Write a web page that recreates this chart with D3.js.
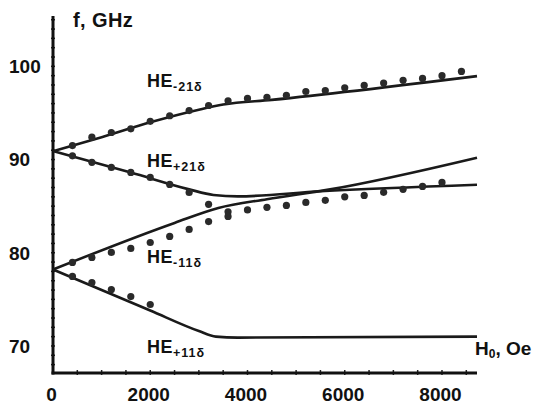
<!DOCTYPE html>
<html lang="en">
  <head>
    <meta charset="utf-8">
    <style>
      body { margin: 0; background: #fff; }
      text {
        font-family: "Liberation Sans", Arial, sans-serif;
        font-weight: bold;
        fill: #111;
      }
      .curve {
        fill: none;
        stroke: #1a1a1a;
        stroke-width: 2.6;
      }
      .dot {
        fill: #2a2a2a;
      }
      .axis-line {
        stroke: #111;
        stroke-width: 3;
      }
      .tick-mark {
        stroke: #222;
        stroke-width: 1.5;
      }
    </style>
  </head>
  <body>
  </body>
  <script src="https://d3js.org/d3.v7.min.js"></script>

  <script>
  var width = 537;
  var height = 408;

  // field H0 (Oe) and frequency f (GHz)
  var xTicks = [0, 2000, 4000, 6000, 8000];
  var xMinorTicks = [500, 1000, 1500, 2000, 2500, 3000, 3500, 4000, 4500, 5000, 5500, 6000, 6500, 7000, 7500, 8000, 8500];
  var yTicks = [70, 80, 90, 100];
  var yMinorTicks = [68, 69, 70, 71, 72, 73, 74, 75, 76, 77, 78, 79, 80, 81, 82, 83, 84, 85, 86, 87, 88, 89, 90,
                     91, 92, 93, 94, 95, 96, 97, 98, 99, 100, 101, 102, 103, 104, 105];

  // calculated curves
  var lineHEm21 = [[0, 90.9], [1000, 92.4], [2000, 94.0], [3000, 95.35], [3500, 95.9], [4500, 96.4], [8720, 98.95]];
  var lineHEp21 = [[0, 90.9], [1600, 88.6], [2800, 86.8], [3300, 86.2], [3800, 86.05], [5500, 86.6], [8720, 87.3]];
  var lineHEm11 = [[0, 78.2], [2500, 83.2], [3400, 84.8], [4400, 85.75], [5700, 86.8], [8720, 90.2]];
  var lineHEp11 = [[0, 78.2], [2000, 73.8], [3000, 71.6], [3350, 71.0], [3800, 70.9], [8720, 71.0]];

  // measured points
  var dotsHEm21H = [400, 800, 1200, 1600, 2000, 2400, 2800, 3200, 3600, 4000, 4400, 4800, 5200, 5600, 6000, 6400, 6800, 7200, 7600, 8000, 8400];
  var dotsHEm21F = [91.5, 92.4, 92.9, 93.3, 94.1, 94.7, 95.25, 95.8, 96.3, 96.56, 96.67, 96.9, 97.3, 97.4, 97.7, 97.95, 98.2, 98.5, 98.7, 99.0, 99.45];

  var dotsHEp21H = [400, 800, 1200, 1600, 2000, 2400, 2800, 3200];
  var dotsHEp21F = [90.4, 89.7, 89.16, 88.62, 88.08, 87.33, 86.47, 85.2];

  var dotsUpperH = [3600, 4000, 4400, 4800, 5200, 5600, 6000, 6400, 6800, 7200, 7600, 8000];
  var dotsUpperF = [84.4, 84.6, 84.87, 85.08, 85.4, 85.62, 86.0, 86.15, 86.48, 86.8, 87.12, 87.55];

  var dotsHEm11H = [400, 800, 1200, 1600, 2000, 2400, 2800, 3200, 3600];
  var dotsHEm11F = [78.96, 79.5, 80.04, 80.46, 81.1, 81.75, 82.5, 83.35, 83.9];

  var dotsHEp11H = [400, 800, 1200, 1600, 2000];
  var dotsHEp11F = [77.46, 76.8, 76.06, 75.3, 74.45];

  var svg = d3.select("body")
    .append("svg")
    .attr("width", width)
    .attr("height", height);

  svg.append("rect")
    .attr("width", width)
    .attr("height", height)
    .attr("fill", "#fff");

  var x = d3.scaleLinear()
    .domain([0, 8720])
    .range([53, 477]);

  var y = d3.scaleLinear()
    .domain([67.1, 105.4])
    .range([373, 16]);

  // minor ticks
  svg.selectAll(".xminor")
    .data(xMinorTicks)
    .enter().append("line")
    .attr("class", "tick-mark")
    .attr("x1", function(d) { return x(d); })
    .attr("x2", function(d) { return x(d); })
    .attr("y1", y.range()[0] - 3)
    .attr("y2", y.range()[0] + 2);

  svg.selectAll(".yminor")
    .data(yMinorTicks)
    .enter().append("line")
    .attr("class", "tick-mark")
    .attr("x1", x(0) - 2)
    .attr("x2", x(0) + 2)
    .attr("y1", function(d) { return y(d); })
    .attr("y2", function(d) { return y(d); });

  // axes
  svg.append("line")
    .attr("class", "axis-line")
    .attr("x1", x(0))
    .attr("x2", x(0))
    .attr("y1", y.range()[1])
    .attr("y2", y.range()[0] + 1.5);

  svg.append("line")
    .attr("class", "axis-line")
    .attr("x1", x(0) - 1.5)
    .attr("x2", x.range()[1])
    .attr("y1", y.range()[0])
    .attr("y2", y.range()[0]);

  var xAxis = d3.axisBottom(x)
    .tickValues(xTicks)
    .tickSize(0)
    .tickPadding(14.5)
    .tickFormat(d3.format("d"));

  var gx = svg.append("g")
    .attr("transform", "translate(-2," + y.range()[0] + ")")
    .call(xAxis);
  gx.select(".domain").remove();
  gx.selectAll("text")
    .attr("font-size", 19)
    .attr("font-family", null)
    .style("fill", "#111");

  svg.selectAll(".ylabel")
    .data(yTicks)
    .enter().append("text")
    .attr("x", 9)
    .attr("y", function(d) { return y(d); })
    .attr("dy", "0.36em")
    .attr("font-size", 19)
    .text(function(d) { return d; });

  // curves
  var line = d3.line()
    .x(function(d) { return x(d[0]); })
    .y(function(d) { return y(d[1]); })
    .curve(d3.curveMonotoneX);

  [lineHEm21, lineHEp21, lineHEm11, lineHEp11].forEach(function(pts) {
    svg.append("path")
      .attr("class", "curve")
      .attr("d", line(pts));
  });

  // measured dots
  [[dotsHEm21H, dotsHEm21F], [dotsHEp21H, dotsHEp21F], [dotsUpperH, dotsUpperF],
   [dotsHEm11H, dotsHEm11F], [dotsHEp11H, dotsHEp11F]].forEach(function(s) {
    svg.append("g").selectAll("circle")
      .data(s[0])
      .enter().append("circle")
      .attr("class", "dot")
      .attr("cx", function(d) { return x(d); })
      .attr("cy", function(d, i) { return y(s[1][i]); })
      .attr("r", 3.6);
  });

  // mode labels
  var modeLabels = [
    { sub: "-21\u03b4", y: 87 },
    { sub: "+21\u03b4", y: 167 },
    { sub: "-11\u03b4", y: 263 },
    { sub: "+11\u03b4", y: 353 }
  ];

  modeLabels.forEach(function(m) {
    var t = svg.append("text")
      .attr("x", 147)
      .attr("y", m.y)
      .attr("font-size", 18)
      .attr("letter-spacing", 0.5);
    t.append("tspan").text("HE");
    t.append("tspan")
      .attr("dy", 4)
      .attr("font-size", 12.5)
      .attr("letter-spacing", 1)
      .text(m.sub);
  });

  // axis titles
  svg.append("text")
    .attr("x", 73)
    .attr("y", 27)
    .attr("font-size", 20)
    .attr("letter-spacing", 0.4)
    .text("f, GHz");

  var ht = svg.append("text")
    .attr("x", 475)
    .attr("y", 355)
    .attr("font-size", 19);
  ht.append("tspan").text("H");
  ht.append("tspan").attr("dy", 3).attr("font-size", 12).text("0");
  ht.append("tspan").attr("dy", -3).text(", Oe");

  </script>
</html>
